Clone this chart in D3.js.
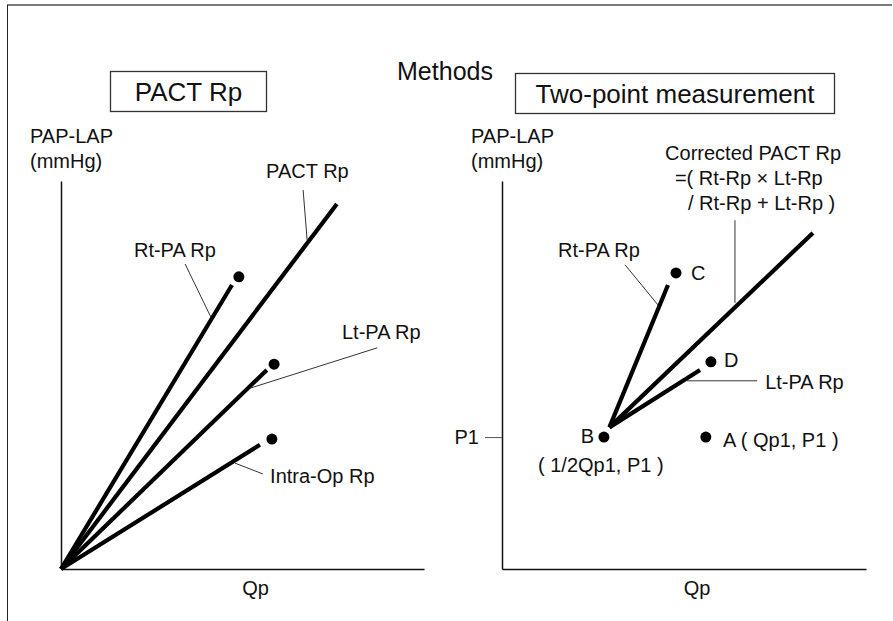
<!DOCTYPE html>
<html>
<head>
<meta charset="utf-8">
<script src="https://cdn.jsdelivr.net/npm/d3@7/dist/d3.min.js"></script>
<style>
  body { margin: 0; background: #fff; }
  svg text { font-family: "Liberation Sans", Arial, sans-serif; fill: #111; }
</style>
</head>
<body>
<div id="chart"></div>
<script>
// DATA (arbitrary units, 0-10 on both axes)
// left panel: resistance lines from origin, end point + dot
const leftSeries = ['Rt-PA Rp', 'PACT Rp', 'Lt-PA Rp', 'Intra-Op Rp'];
const leftLineEnd = [[4.71, 7.32], [7.60, 9.41], [5.67, 5.13], [5.48, 3.20]];
const leftDots = [[4.90, 7.53], [5.87, 5.28], [5.81, 3.35]];

// right panel: two-point measurement
const P1 = 3.4;
const Qp1 = 5.6;
const pointNames = ['A', 'B', 'C', 'D'];
const pointValues = [[Qp1, P1], [Qp1 / 2, P1], [4.78, 7.63], [5.74, 5.34]];
const rightSeries = ['Rt-PA Rp', 'Corrected PACT Rp', 'Lt-PA Rp'];
const rightLineStart = [2.95, 3.65];
const rightLineEnd = [[4.56, 7.32], [8.54, 8.66], [5.44, 5.13]];

const width = 893, height = 621;
const svg = d3.select('#chart').append('svg')
  .attr('width', width)
  .attr('height', height);

// frame (top + left edge only)
svg.append('line').attr('x1', 7).attr('x2', 892).attr('y1', 5).attr('y2', 5)
  .attr('stroke', '#7a7a7a').attr('stroke-width', 2);
svg.append('line').attr('x1', 7.5).attr('x2', 7.5).attr('y1', 5).attr('y2', 621)
  .attr('stroke', '#222').attr('stroke-width', 1);

svg.append('text').attr('x', 445).attr('y', 80)
  .attr('text-anchor', 'middle').attr('font-size', 25).text('Methods');

function titleBox(x0, x1, y0, y1, label) {
  svg.append('rect').attr('x', x0).attr('y', y0)
    .attr('width', x1 - x0).attr('height', y1 - y0)
    .attr('fill', 'none').attr('stroke', '#333').attr('stroke-width', 1.3);
  svg.append('text').attr('x', (x0 + x1) / 2).attr('y', y1 - 11)
    .attr('text-anchor', 'middle').attr('font-size', 26).text(label);
}
titleBox(110.5, 266.5, 71.5, 111.5, 'PACT Rp');
titleBox(515.5, 834.5, 73.5, 113.5, 'Two-point measurement');

// panel scales
const yScale = d3.scaleLinear().domain([0, 10]).range([569, 181]);
const xLeft = d3.scaleLinear().domain([0, 10]).range([61, 424]);
const xRight = d3.scaleLinear().domain([0, 10]).range([502, 866]);

function drawAxes(x, yAxis) {
  const gx = svg.append('g').attr('transform', `translate(0,${yScale(0)})`)
    .call(d3.axisBottom(x).tickValues([]).tickSizeOuter(0));
  const gy = svg.append('g').attr('transform', `translate(${x(0)},0)`)
    .call(yAxis);
  [gx, gy].forEach(g => {
    g.select('.domain').attr('stroke', '#111').attr('stroke-width', 1.5);
    g.selectAll('.tick line').attr('stroke', '#555').attr('stroke-width', 1);
    g.selectAll('.tick text').attr('font-size', 20).attr('fill', '#111')
      .attr('font-family', '"Liberation Sans", Arial, sans-serif');
  });
  svg.append('text').attr('x', (x(0) + x(10)) / 2 + 13).attr('y', 595)
    .attr('text-anchor', 'middle').attr('font-size', 20).text('Qp');
  svg.append('text').attr('x', x(0) - 31).attr('y', 143)
    .attr('font-size', 20).text('PAP-LAP');
  svg.append('text').attr('x', x(0) - 31).attr('y', 168)
    .attr('font-size', 20).text('(mmHg)');
}

drawAxes(xLeft, d3.axisLeft(yScale).tickValues([]).tickSizeOuter(0));
drawAxes(xRight, d3.axisLeft(yScale).tickValues([P1]).tickFormat(() => 'P1')
  .tickSize(17).tickPadding(6).tickSizeOuter(0));

function thick(x, a, b) {
  svg.append('line')
    .attr('x1', x(a[0])).attr('y1', yScale(a[1]))
    .attr('x2', x(b[0])).attr('y2', yScale(b[1]))
    .attr('stroke', '#000').attr('stroke-width', 4.2);
}
function leader(x, a, b) {
  svg.append('line')
    .attr('x1', x(a[0])).attr('y1', yScale(a[1]))
    .attr('x2', x(b[0])).attr('y2', yScale(b[1]))
    .attr('stroke', '#333').attr('stroke-width', 1);
}
function label(x, p, txt, anchor) {
  return svg.append('text').attr('x', x(p[0])).attr('y', yScale(p[1]))
    .attr('text-anchor', anchor || 'start').attr('font-size', 20).text(txt);
}
function dot(x, p) {
  svg.append('circle').attr('cx', x(p[0])).attr('cy', yScale(p[1]))
    .attr('r', 5.5).attr('fill', '#000');
}

// LEFT PANEL
leftLineEnd.forEach(e => thick(xLeft, [0, 0], e));
leftDots.forEach(d => dot(xLeft, d));

// label layout: [text position, leader start, leader end]
const leftLabelPos = [
  [[2.01, 8.04], [3.42, 7.86], [4.13, 6.49]],
  [[5.65, 10.08], [6.67, 9.77], [6.78, 8.48]],
  [[7.74, 5.93], [8.71, 5.70], [5.21, 4.66]],
  [[5.76, 2.22], [4.79, 2.73], [5.56, 2.45]]
];
leftSeries.forEach((s, i) => {
  const [t, a, b] = leftLabelPos[i];
  label(xLeft, t, s);
  leader(xLeft, a, b);
});

// RIGHT PANEL
rightLineEnd.forEach(e => thick(xRight, rightLineStart, e));
pointValues.forEach(p => dot(xRight, p));

// Rt-PA Rp
label(xRight, [1.54, 8.04], rightSeries[0]);
leader(xRight, [3.38, 7.84], [4.29, 6.80]);
// Corrected PACT Rp + formula
label(xRight, [4.48, 10.54], rightSeries[1]);
label(xRight, [4.75, 9.90], '=( Rt-Rp \u00d7 Lt-Rp');
label(xRight, [5.11, 9.25], '/ Rt-Rp + Lt-Rp )');
leader(xRight, [6.40, 8.99], [6.40, 6.86]);
// Lt-PA Rp
label(xRight, [7.23, 4.64], rightSeries[2]);
leader(xRight, [5.08, 4.85], [7.01, 4.85]);

// point names
label(xRight, [6.07, 3.14], pointNames[0] + ' ( Qp1, P1 )');
label(xRight, [2.53, 3.25], pointNames[1], 'end');
label(xRight, [0.99, 2.50], '( 1/2Qp1, P1 )');
label(xRight, [5.19, 7.45], pointNames[2]);
label(xRight, [6.10, 5.21], pointNames[3]);
</script>
</body>
</html>
